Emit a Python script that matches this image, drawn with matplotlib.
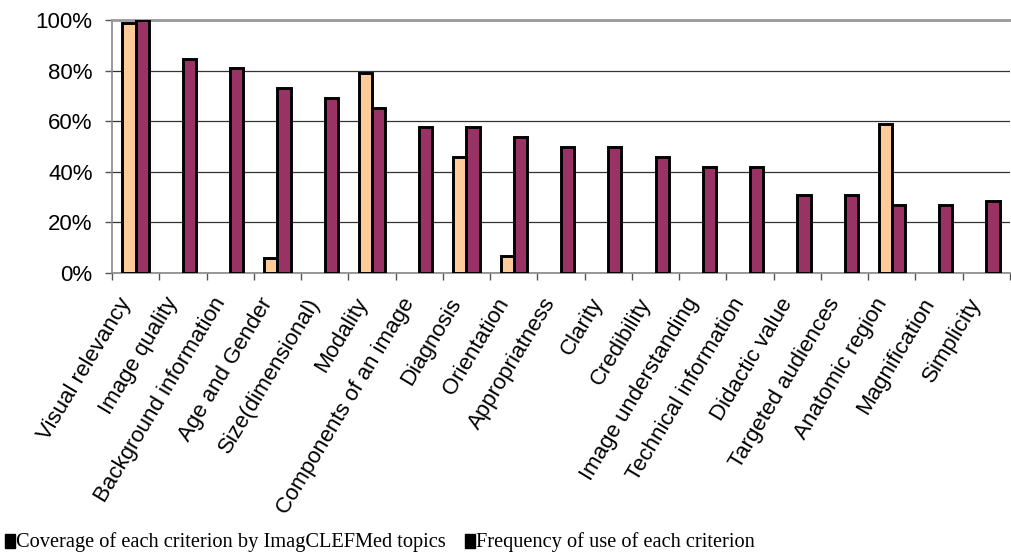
import numpy as np
import matplotlib
matplotlib.use("Agg")
import matplotlib.pyplot as plt
from matplotlib.patches import Rectangle
from matplotlib.ticker import FixedLocator, PercentFormatter

CRITERIA = [
    "Visual relevancy", "Image quality", "Background information", "Age and Gender",
    "Size(dimensional)", "Modality", "Components of an image", "Diagnosis",
    "Orientation", "Appropriatness", "Clarity", "Credibility",
    "Image understanding", "Technical information", "Didactic value",
    "Targeted audiences", "Anatomic region", "Magnification", "Simplicity",
]

# coverage by ImageCLEFMed topics (nan = no bar)
COVERAGE = [98.7, np.nan, np.nan, 6.0, np.nan, 79.0, np.nan, 46.0, 6.8,
            np.nan, np.nan, np.nan, np.nan, np.nan, np.nan, np.nan, 58.8,
            np.nan, np.nan]

# frequency of use of each criterion
FREQUENCY = [100.0, 84.5, 81.0, 73.0, 69.0, 65.2, 57.6, 57.8, 53.9,
             49.8, 49.8, 46.0, 42.0, 42.0, 31.0, 31.0, 26.9, 26.9, 28.3]

LEGEND_LABELS = ["Coverage of each criterion by ImagCLEFMed topics",
                 "Frequency of use of each criterion"]

ORANGE = "#FFCC99"
PURPLE = "#993366"

W, H = 1012, 552


def legend_entry(fig, x_px, label):
    # black square marker + serif text, placed in pixel units
    fig.patches.append(Rectangle((x_px / W, 4 / H), 10 / W, 14 / H,
                                 transform=fig.transFigure, color="black"))
    fig.text((x_px + 11) / W, 5 / H, label, fontsize=14.7,
             family=["Liberation Serif", "DejaVu Serif"], va="baseline")


def main():
    fig = plt.figure(figsize=(W / 100, H / 100), dpi=100)
    ax = fig.add_axes([112 / W, 1 - 273 / H, 898 / W, 253 / H])

    x = np.arange(len(CRITERIA))
    w = 0.28
    ax.bar(x - w / 2, COVERAGE, width=w, color=ORANGE, edgecolor="black",
           linewidth=2.1, zorder=3)
    ax.bar(x + w / 2, FREQUENCY, width=w, color=PURPLE, edgecolor="black",
           linewidth=2.1, zorder=3)

    ax.set_xlim(-0.5, len(CRITERIA) - 0.5)
    ax.set_ylim(0, 100)

    ax.yaxis.set_major_locator(FixedLocator([0, 20, 40, 60, 80, 100]))
    ax.yaxis.set_major_formatter(PercentFormatter(decimals=0))
    ax.grid(axis="y", color="#333333", linewidth=0.9, zorder=0)

    # label anchors sit a little left of the category centre, as in the original
    ax.set_xticks(x - 0.2)
    ax.set_xticklabels(CRITERIA, rotation=59, ha="right", va="center",
                       rotation_mode="anchor", fontsize=16,
                       family="Liberation Sans")
    ax.set_xticks(np.arange(-0.5, len(CRITERIA)), minor=True)
    ax.tick_params(axis="x", which="major", length=0, pad=19)
    ax.tick_params(axis="x", which="minor", length=5, width=1, color="#555555")
    ax.tick_params(axis="y", length=5, width=1, color="#555555", pad=9,
                   labelsize=16)
    for lab in ax.get_yticklabels():
        lab.set_family("Liberation Sans")

    for side in ["left", "bottom"]:
        ax.spines[side].set_color("#888888")
        ax.spines[side].set_linewidth(1.2)
    ax.spines["top"].set_color("#999999")
    ax.spines["top"].set_linewidth(2.0)
    ax.spines["right"].set_visible(False)

    legend_entry(fig, 5, LEGEND_LABELS[0])
    legend_entry(fig, 465, LEGEND_LABELS[1])

    fig.savefig("out.png", dpi=100)
    plt.close(fig)


if __name__ == "__main__":
    main()
